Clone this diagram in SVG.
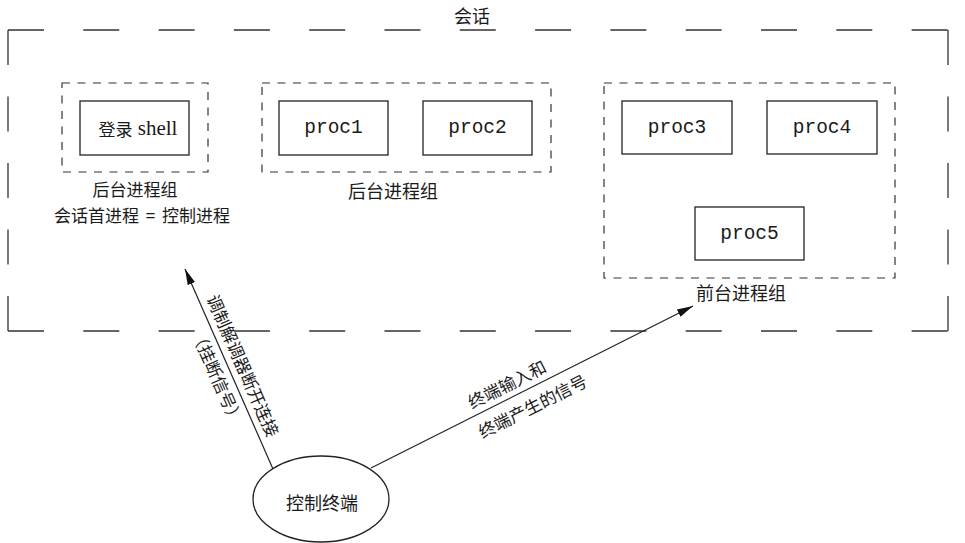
<svg xmlns="http://www.w3.org/2000/svg" width="965" height="543" viewBox="0 0 965 543">
<style>
.cjk{font-family:"Noto Sans CJK SC","Noto Sans",sans-serif;font-size:18px;fill:#1a1a1a;text-anchor:middle;dominant-baseline:central}
.mono{font-family:"Liberation Mono",monospace;font-size:19.5px;fill:#1a1a1a;text-anchor:middle;dominant-baseline:central}
.box{fill:none;stroke:#222;stroke-width:1.3}
.grp{fill:none;stroke:#333;stroke-width:1.2;stroke-dasharray:8 7.5}
.outh{stroke:#333;stroke-width:1.3;stroke-dasharray:36 39.3;fill:none}
.outv{stroke:#333;stroke-width:1.3;stroke-dasharray:35 31.5;fill:none}
.conn{stroke:#222;stroke-width:1.2;fill:none;marker-end:url(#arr)}
</style>
<defs>
<marker id="arr" viewBox="0 0 16 8" refX="16" refY="4" markerWidth="16" markerHeight="8" markerUnits="userSpaceOnUse" orient="auto">
<path d="M0,0 L16,4 L0,8 z" fill="#111"/>
</marker>
</defs>
<rect width="965" height="543" fill="#fff"/>
<g id="session">
<line class="outh" x1="8" y1="30" x2="948" y2="30"/>
<line class="outh" x1="8" y1="331" x2="948" y2="331"/>
<line class="outv" x1="8" y1="30" x2="8" y2="331"/>
<line class="outv" x1="948" y1="30" x2="948" y2="331"/>
<text class="cjk" x="472" y="15">会话</text>
</g>
<g id="group1">
<rect class="grp" x="62" y="83" width="146" height="89"/>
<text class="cjk" x="135" y="188" style="font-size:17px">后台进程组</text>
<text class="cjk" x="142" y="214" style="font-size:17px;word-spacing:3px">会话首进程 = 控制进程</text>
</g>
<g id="login">
<rect class="box" x="80" y="101" width="109" height="54"/>
<text x="138" y="128" style="fill:#1a1a1a;text-anchor:middle;dominant-baseline:central"><tspan style="font-family:'Noto Sans CJK SC',sans-serif;font-size:17px">登录</tspan><tspan style="font-family:'Liberation Serif',serif;font-size:21px"> shell</tspan></text>
</g>
<g id="group2">
<rect class="grp" x="262" y="83" width="289" height="89"/>
<text class="cjk" x="393" y="190">后台进程组</text>
</g>
<g id="proc1">
<rect class="box" x="279" y="101" width="109" height="54"/>
<text class="mono" x="333.5" y="128">proc1</text>
</g>
<g id="proc2">
<rect class="box" x="423" y="101" width="109" height="54"/>
<text class="mono" x="477.5" y="128">proc2</text>
</g>
<g id="group3">
<rect class="grp" x="604" y="83" width="291" height="195"/>
<text class="cjk" x="741" y="292">前台进程组</text>
</g>
<g id="proc3">
<rect class="box" x="622" y="101" width="110" height="53"/>
<text class="mono" x="677" y="127.5">proc3</text>
</g>
<g id="proc4">
<rect class="box" x="767" y="101" width="110" height="53"/>
<text class="mono" x="822" y="127.5">proc4</text>
</g>
<g id="proc5">
<rect class="box" x="695" y="207" width="109" height="53"/>
<text class="mono" x="749.5" y="233.5">proc5</text>
</g>
<g id="terminal">
<ellipse class="box" cx="321" cy="499" rx="68" ry="43"/>
<text class="cjk" x="322" y="502">控制终端</text>
</g>
<g id="connectors">
<line class="conn" x1="273" y1="469" x2="185" y2="269"/>
<line class="conn" x1="371" y1="468" x2="693" y2="306"/>
<g transform="translate(231,371) rotate(66.25)">
<text class="cjk" x="0" y="-14" style="font-size:17px">调制解调器断开连接</text>
<text class="cjk" x="0" y="14" style="font-size:17px">（挂断信号）</text>
</g>
<g transform="translate(525,390) rotate(-26.7)">
<text class="cjk" x="-56" y="-14" style="text-anchor:start;font-size:17px">终端输入和</text>
<text class="cjk" x="-60" y="17" style="text-anchor:start;font-size:17px">终端产生的信号</text>
</g>
</g>
</svg>
